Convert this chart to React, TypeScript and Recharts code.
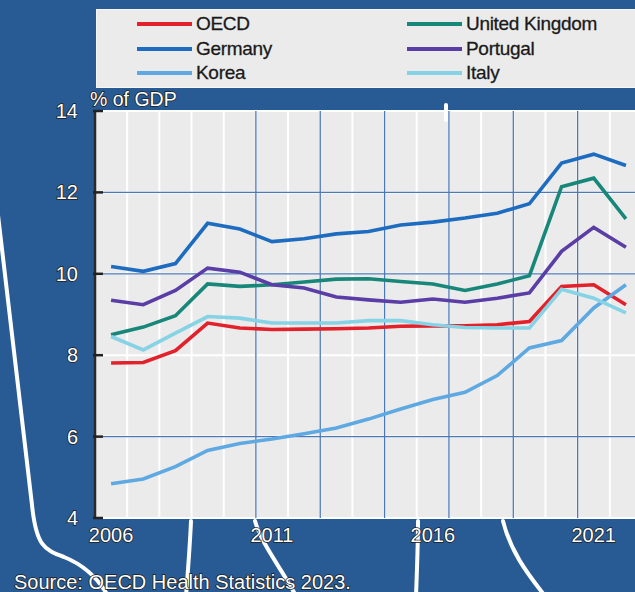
import React from 'react';
import { LineChart, Line, XAxis, YAxis, CartesianGrid, ReferenceLine } from 'recharts';

const years = [2006, 2007, 2008, 2009, 2010, 2011, 2012, 2013, 2014, 2015, 2016, 2017, 2018, 2019, 2020, 2021, 2022];
const oecd = [7.81, 7.82, 8.11, 8.79, 8.67, 8.63, 8.64, 8.65, 8.67, 8.71, 8.72, 8.72, 8.75, 8.83, 9.69, 9.73, 9.24];
const germany = [10.18, 10.06, 10.25, 11.24, 11.1, 10.79, 10.86, 10.98, 11.04, 11.2, 11.27, 11.37, 11.49, 11.72, 12.72, 12.94, 12.66];
const korea = [4.84, 4.96, 5.26, 5.66, 5.83, 5.94, 6.07, 6.21, 6.43, 6.68, 6.91, 7.09, 7.5, 8.18, 8.36, 9.16, 9.73];
const unitedKingdom = [8.5, 8.69, 8.97, 9.75, 9.69, 9.73, 9.8, 9.87, 9.88, 9.81, 9.75, 9.59, 9.75, 9.95, 12.14, 12.35, 11.35];
const portugal = [9.35, 9.24, 9.59, 10.14, 10.04, 9.73, 9.65, 9.43, 9.36, 9.3, 9.38, 9.3, 9.4, 9.53, 10.55, 11.14, 10.65];
const italy = [8.46, 8.13, 8.54, 8.95, 8.91, 8.79, 8.79, 8.79, 8.85, 8.85, 8.75, 8.68, 8.67, 8.67, 9.62, 9.4, 9.04];

const yTicks = [4, 6, 8, 10, 12, 14];
const xLabelYears = [2006, 2011, 2016, 2021];
const bandEdges = [...years.map((y) => y - 0.5), 2022.5];
const blueVerticals = [2010.5, 2012.5, 2014.5, 2016.5, 2018.5, 2020.5];
const blueHorizontals = [6, 10, 12];

const series = [
  { key: 'oecd', name: 'OECD', color: '#e3212b', values: oecd },
  { key: 'germany', name: 'Germany', color: '#1d6cc0', values: germany },
  { key: 'korea', name: 'Korea', color: '#5fa9e3', values: korea },
  { key: 'uk', name: 'United Kingdom', color: '#17877a', values: unitedKingdom },
  { key: 'portugal', name: 'Portugal', color: '#5a3ea6', values: portugal },
  { key: 'italy', name: 'Italy', color: '#86d3e6', values: italy },
];

const data = years.map((year, i) => {
  const row: Record<string, number> = { year };
  series.forEach((s) => {
    row[s.key] = s.values[i];
  });
  return row;
});

const FONT = '"Liberation Sans", Arial, sans-serif';
const outlined = {
  fill: '#ffffff',
  stroke: '#1b1b1b',
  strokeWidth: 1.5,
  paintOrder: 'stroke' as const,
  fontFamily: FONT,
};

const YTick = (props: any) => {
  const { x, y, payload } = props;
  return (
    <g>
      <line x1={x - 2} x2={x + 8} y1={y} y2={y} stroke="#222" strokeWidth={2.5} />
      <text x={x - 17} y={y} dy={7} textAnchor="end" fontSize={20} {...outlined}>
        {payload.value}
      </text>
    </g>
  );
};

const XMarkTick = (props: any) => {
  const { x, y } = props;
  return <line x1={x} x2={x} y1={y} y2={y - 8} stroke="#222" strokeWidth={2.5} />;
};

const XLabelTick = (props: any) => {
  const { x, y, payload } = props;
  return (
    <text x={x} y={y} dy={24} textAnchor="middle" fontSize={20} {...outlined}>
      {payload.value}
    </text>
  );
};

const legendCols = [series.slice(0, 3), series.slice(3, 6)];

export default function App() {
  return (
    <div
      style={{
        position: 'absolute',
        left: 0,
        top: 0,
        width: 635,
        height: 592,
        overflow: 'hidden',
        background: '#285b94',
        fontFamily: FONT,
      }}
    >
      <svg width={635} height={592} style={{ position: 'absolute', left: 0, top: 0 }}>
        <g stroke="#ffffff" strokeWidth={4} fill="none" strokeLinecap="round">
          <path d="M -2 215 C 8 300, 22 420, 32 505 C 36 545, 44 550, 64 557 C 84 565, 98 578, 108 596" />
          <path d="M 191 521 C 190 545, 188 570, 186 596" />
          <path d="M 255 521 C 262 545, 280 566, 296 596" />
          <path d="M 418 521 C 418 545, 417 570, 416 596" />
          <path d="M 503 521 C 510 550, 526 572, 545 596" />
        </g>
      </svg>
      <div style={{ position: 'absolute', left: 0, top: 0 }}>
        <LineChart width={660} height={592} data={data} margin={{ top: 111, right: 18, bottom: 44, left: 0 }}>
          <CartesianGrid fill="#ebebeb" stroke="#ffffff" strokeWidth={2} />
          <XAxis
            dataKey="year"
            type="number"
            domain={[2005.5, 2022.5]}
            ticks={bandEdges}
            interval={0}
            height={0}
            tickSize={0}
            tickMargin={0}
            tickLine={false}
            axisLine={{ stroke: '#2a2a2a', strokeWidth: 2.5 }}
            tick={<XMarkTick />}
            allowDataOverflow
          />
          <XAxis
            xAxisId="lbl"
            dataKey="year"
            type="number"
            domain={[2005.5, 2022.5]}
            ticks={xLabelYears}
            interval={0}
            height={30}
            tickSize={0}
            tickMargin={0}
            tickLine={false}
            axisLine={false}
            tick={<XLabelTick />}
            allowDataOverflow
          />
          <YAxis
            type="number"
            domain={[4, 14]}
            ticks={yTicks}
            interval={0}
            width={95}
            tickSize={0}
            tickMargin={0}
            tickLine={false}
            axisLine={{ stroke: '#2a2a2a', strokeWidth: 2.5 }}
            tick={<YTick />}
          />
          {blueVerticals.map((v) => (
            <ReferenceLine key={'v' + v} x={v} stroke="#4b78b6" strokeWidth={1.3} />
          ))}
          {blueHorizontals.map((v) => (
            <ReferenceLine key={'h' + v} y={v} stroke="#4b78b6" strokeWidth={1.3} />
          ))}
          {series.map((s) => (
            <Line
              key={s.key}
              dataKey={s.key}
              name={s.name}
              stroke={s.color}
              strokeWidth={3.6}
              dot={false}
              type="linear"
              isAnimationActive={false}
            />
          ))}
        </LineChart>
      </div>
      <div
        style={{
          position: 'absolute',
          left: 96,
          top: 9,
          width: 560,
          height: 77,
          background: '#ebebeb',
          border: '1px solid #f6f6f6',
        }}
      >
        {legendCols.map((col, ci) =>
          col.map((s, ri) => (
            <div
              key={s.key}
              style={{
                position: 'absolute',
                left: ci === 0 ? 40 : 310,
                top: 2 + ri * 24.5,
                height: 24,
                display: 'flex',
                alignItems: 'center',
                whiteSpace: 'nowrap',
              }}
            >
              <div style={{ width: 55, height: 4, background: s.color, marginRight: 4 }} />
              <span
                style={{
                  fontSize: 19,
                  color: '#1a1a1a',
                  letterSpacing: -0.3,
                  WebkitTextStroke: '0.3px #1a1a1a',
                }}
              >
                {s.name}
              </span>
            </div>
          ))
        )}
      </div>
      <svg width={635} height={592} style={{ position: 'absolute', left: 0, top: 0, pointerEvents: 'none' }}>
        <path d="M 446 105 L 446 120" stroke="#ffffff" strokeWidth={4} strokeLinecap="round" />
        <text x={90} y={106} fontSize={19.5} {...outlined}>
          % of GDP
        </text>
        <text x={14} y={589} fontSize={20} {...outlined}>
          Source: OECD Health Statistics 2023.
        </text>
      </svg>
    </div>
  );
}
